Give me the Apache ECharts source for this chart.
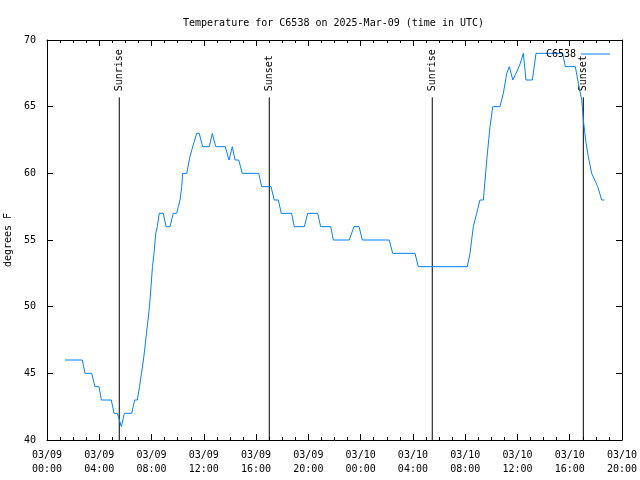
<!DOCTYPE html>
<html>
<head>
<meta charset="utf-8">
<script src="https://cdn.jsdelivr.net/npm/echarts@6/dist/echarts.min.js"></script>
<style>html,body{margin:0;padding:0;background:#fff}#c{width:640px;height:480px}</style>
</head>
<body>
<div id="c"></div>
<script>
// hours since 2025-03-09 00:00 UTC
const hours = [1.38,2.70,2.91,3.42,3.67,3.98,4.16,4.92,5.13,5.38,5.69,5.92,6.48,6.71,6.91,7.08,7.23,7.38,7.50,7.61,7.73,7.84,7.96,8.07,8.19,8.32,8.44,8.59,8.90,9.11,9.41,9.66,9.92,10.05,10.18,10.31,10.38,10.69,10.94,11.15,11.46,11.65,11.91,12.42,12.65,12.91,13.64,13.93,14.18,14.39,14.67,14.94,16.20,16.43,17.14,17.39,17.70,17.93,18.72,18.92,19.69,19.95,20.71,20.94,21.71,21.91,23.13,23.49,23.88,24.13,26.19,26.45,28.16,28.41,32.16,32.37,32.62,32.88,33.13,33.39,33.65,33.90,34.11,34.66,34.92,35.18,35.38,35.64,35.94,36.20,36.45,36.65,37.14,37.42,39.46,39.66,40.43,40.66,40.92,41.04,41.22,41.42,41.68,42.14,42.45,42.65];
const temps = [46,46,45,45,44,44,43,43,42,42,41,42,42,43,43,44,45,46,47,48,49,50,51.5,53,54,55.5,56,57,57,56,56,57,57,57.5,58,59,60,60,61.25,62,63,63,62,62,63,62,62,61,62,61,61,60,60,59,59,58,58,57,57,56,56,57,57,56,56,55,55,56,56,55,55,54,54,53,53,54,56,57,58,58,61,63.5,65,65,66,67.5,68,67,67.6,68.2,69,67,67,69,69,68,68,66.75,65.5,64,62.5,61.25,60,59,58,58];
const sunHours = [5.53, 17.01, 29.48, 41.04];
const sunNames = ['Sunrise', 'Sunset', 'Sunrise', 'Sunset'];
const sunLineTop = 65.7;
const xTickLabels = ['03/09\n00:00','03/09\n04:00','03/09\n08:00','03/09\n12:00','03/09\n16:00','03/09\n20:00','03/10\n00:00','03/10\n04:00','03/10\n08:00','03/10\n12:00','03/10\n16:00','03/10\n20:00'];
const seriesName = 'C6538';
const titleText = 'Temperature for C6538 on 2025-Mar-09 (time in UTC)';
const yName = 'degrees F';

const FONT = 'DejaVu Sans Mono';
const chart = echarts.init(document.getElementById('c'), null, {renderer: 'canvas'});
const axisLine = {show: true, onZero: false, lineStyle: {color: '#000', width: 1}};
const tick = {show: true, inside: true, length: 6, lineStyle: {color: '#000'}};
const minor = {show: true, splitNumber: 4, length: 3, lineStyle: {color: '#000'}};

const series = [{
  name: seriesName, type: 'line', data: hours.map((h, i) => [h, temps[i]]),
  symbol: 'none', lineStyle: {color: '#0080ff', width: 1}, itemStyle: {color: '#0080ff'},
  animation: false, z: 3
}];
sunHours.forEach((h, i) => {
  series.push({
    name: 'sun' + i, type: 'line', symbol: 'circle', symbolSize: 0, animation: false,
    lineStyle: {color: '#000', width: 1}, itemStyle: {color: '#000'}, z: 2,
    data: [[h, 40], {value: [h, sunLineTop], label: {
      show: true, formatter: sunNames[i], position: 'top', distance: 6, rotate: 90,
      align: 'left', verticalAlign: 'middle', color: '#000', fontFamily: FONT, fontSize: 10
    }}]
  });
});

chart.setOption({
  animation: false,
  title: {text: titleText, left: 178, top: 13, textStyle: {fontFamily: FONT, fontSize: 10, fontWeight: 'normal', color: '#000'}},
  legend: {data: [seriesName], right: 25, top: 44, align: 'right', icon: 'rect', itemWidth: 29, itemHeight: 1,
    itemStyle: {color: '#0080ff'}, textStyle: {fontFamily: FONT, fontSize: 10, color: '#000'}},
  grid: {left: 47, right: 18, top: 40, bottom: 40, containLabel: false, outerBoundsMode: 'none'},
  xAxis: [{
    type: 'value', min: 0, max: 44, interval: 4, position: 'bottom',
    axisLine, axisTick: tick, minorTick: minor, splitLine: {show: false},
    axisLabel: {formatter: v => xTickLabels[Math.round(v / 4)], fontFamily: FONT, fontSize: 10, color: '#000', lineHeight: 14, margin: 8}
  }, {
    type: 'value', min: 0, max: 44, interval: 4, position: 'top',
    axisLine, axisTick: tick, minorTick: minor, splitLine: {show: false}, axisLabel: {show: false}
  }],
  yAxis: [{
    type: 'value', min: 40, max: 70, interval: 5, position: 'left',
    name: yName, nameLocation: 'middle', nameRotate: 90, nameGap: 33,
    nameTextStyle: {fontFamily: FONT, fontSize: 10, color: '#000'},
    axisLine, axisTick: tick, splitLine: {show: false},
    axisLabel: {fontFamily: FONT, fontSize: 10, color: '#000', margin: 11}
  }, {
    type: 'value', min: 40, max: 70, interval: 5, position: 'right',
    axisLine, axisTick: tick, splitLine: {show: false}, axisLabel: {show: false}
  }],
  series
});
</script>
</body>
</html>
